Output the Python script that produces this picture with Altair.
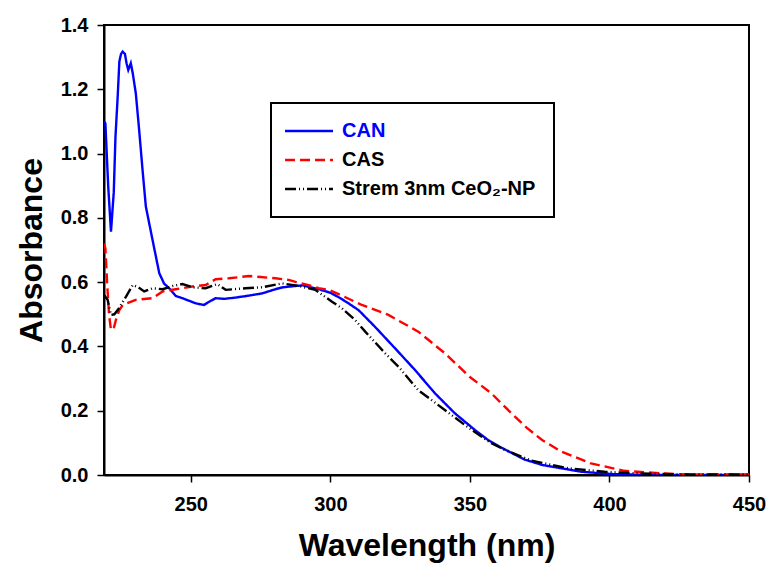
import altair as alt
import pandas as pd

# ---- data ----
can_wl = [218.9, 219.4, 220.4, 221.4, 222.4, 223.0, 223.8, 224.4, 225.0, 225.6, 226.4, 227.0, 227.6, 228.5,
          229.2, 230.3, 231.5, 232.7, 233.9, 236.3, 238.7, 240.4, 242.8, 244.6, 247.0, 251.8, 254.7,
          256.8, 258.9, 262.0, 266.0, 270.0, 275.6, 280.3, 283.0, 287.5, 290.0, 295.8, 300.0, 303.0,
          306.0, 310.1, 316.0, 323.2, 330.3, 337.5, 344.6, 351.8, 356.5, 361.3, 369.6, 376.0, 382.7,
          390.0, 400.6, 410.0, 420.0, 430.0, 440.0, 450.0]
can_abs = [1.10, 1.094, 0.90, 0.757, 0.88, 1.05, 1.177, 1.286, 1.31, 1.317, 1.31, 1.28, 1.26, 1.281,
           1.25, 1.187, 1.073, 0.95, 0.835, 0.731, 0.628, 0.596, 0.576, 0.557, 0.550, 0.534, 0.529,
           0.540, 0.550, 0.548, 0.552, 0.557, 0.565, 0.578, 0.584, 0.588, 0.590, 0.578, 0.567, 0.553,
           0.537, 0.513, 0.461, 0.394, 0.327, 0.254, 0.192, 0.140, 0.109, 0.085, 0.048, 0.031, 0.021,
           0.010, 0.003, 0.001, 0.0, 0.0, 0.0, 0.0]

cas_wl = [218.9, 219.4, 220.0, 220.7, 221.4, 222.5, 223.4, 224.4, 225.6, 230.3, 236.3, 239.9, 244.6,
          251.8, 255.3, 258.9, 263.7, 270.8, 275.0, 280.3, 285.1, 287.5, 292.2, 295.8, 299.4, 304.4,
          311.3, 320.8, 331.5, 341.0, 350.0, 357.7, 361.3, 364.9, 370.2, 376.0, 382.7, 393.4, 405.3,
          418.4, 430.3, 440.0, 450.0]
cas_abs = [0.72, 0.705, 0.60, 0.50, 0.451, 0.46, 0.49, 0.513, 0.529, 0.545, 0.550, 0.571, 0.578,
           0.588, 0.591, 0.609, 0.612, 0.619, 0.616, 0.612, 0.607, 0.601, 0.591, 0.581, 0.576, 0.557,
           0.529, 0.498, 0.446, 0.379, 0.305, 0.254, 0.223, 0.192, 0.148, 0.108, 0.073, 0.036, 0.013,
           0.005, 0.001, 0.002, 0.002]

np_wl = [218.9, 220.2, 221.4, 222.6, 223.8, 226.8, 229.2, 231.0, 233.3, 236.3, 239.9, 243.5, 247.0,
         250.6, 255.3, 259.5, 262.5, 269.6, 275.6, 282.7, 288.7, 294.6, 300.6, 304.0, 308.9, 312.5,
         319.6, 324.4, 331.5, 336.3, 344.6, 349.4, 357.7, 362.5, 372.0, 385.1, 398.2, 410.0, 424.4,
         437.0, 450.0]
np_abs = [0.56, 0.545, 0.498, 0.50, 0.513, 0.555, 0.591, 0.585, 0.571, 0.581, 0.578, 0.588, 0.594,
          0.584, 0.581, 0.594, 0.576, 0.581, 0.584, 0.596, 0.588, 0.576, 0.539, 0.520, 0.482, 0.446,
          0.379, 0.337, 0.264, 0.233, 0.179, 0.148, 0.099, 0.078, 0.045, 0.021, 0.010, 0.005, 0.002,
          0.002, 0.002]

series_names = ["CAN", "CAS", "Strem 3nm CeO\u2082-NP"]
series_colors = ["#0000ff", "#ff0000", "#000000"]
series_dash = [[1, 0], [10, 5], [11, 3, 1, 3, 1, 3]]

rows = []
for name, wls, vals in zip(series_names, [can_wl, cas_wl, np_wl], [can_abs, cas_abs, np_abs]):
    for i, (w, v) in enumerate(zip(wls, vals)):
        rows.append({"series": name, "wl": w, "abs": v, "order": i})
df = pd.DataFrame(rows)

font = "Liberation Sans"

chart = alt.Chart(df).mark_line(strokeWidth=2.4, clip=True).encode(
    x=alt.X("wl:Q",
            scale=alt.Scale(domain=[218.9, 450], nice=False, zero=False),
            axis=alt.Axis(values=[250, 300, 350, 400, 450], title="Wavelength (nm)",
                          labelPadding=12, titlePadding=16, labelFlush=False)),
    y=alt.Y("abs:Q",
            scale=alt.Scale(domain=[0, 1.4], nice=False),
            axis=alt.Axis(values=[0, 0.2, 0.4, 0.6, 0.8, 1.0, 1.2, 1.4], format=".1f",
                          title="Absorbance", labelPadding=9, titlePadding=12)),
    color=alt.Color("series:N",
                    scale=alt.Scale(domain=series_names, range=series_colors),
                    legend=alt.Legend(title=None, orient="none", legendX=167, legendY=78,
                                      symbolType="M-5,0H5", symbolSize=92,
                                      symbolStrokeWidth=2.4, symbolOffset=10,
                                      labelOffset=23, labelFontSize=20, labelFont=font,
                                      labelFontWeight="bold", labelLimit=500,
                                      labelColor={"expr": "datum.value === 'CAN' ? '#0000ff' : '#000000'"},
                                      padding=18, rowPadding=9, strokeColor="black",
                                      fillColor="white")),
    strokeDash=alt.StrokeDash("series:N",
                              scale=alt.Scale(domain=series_names, range=series_dash),
                              legend=None),
    order="order:Q",
).properties(
    width=645, height=450,
    autosize="none",
    padding={"left": 96, "top": 17, "right": 20, "bottom": 95},
).configure_view(
    stroke="black", strokeWidth=2
).configure_axis(
    grid=False, domainColor="black", domainWidth=2, tickColor="black", tickWidth=1.5,
    tickSize=7, labelFont=font, labelFontSize=20, labelFontWeight="bold", labelColor="black",
    titleFont=font, titleFontSize=32, titleFontWeight="bold", titleColor="black"
).configure_legend(
    strokeWidth=2
)

chart.save("out.html", embed_options={"renderer": "svg", "actions": False})
